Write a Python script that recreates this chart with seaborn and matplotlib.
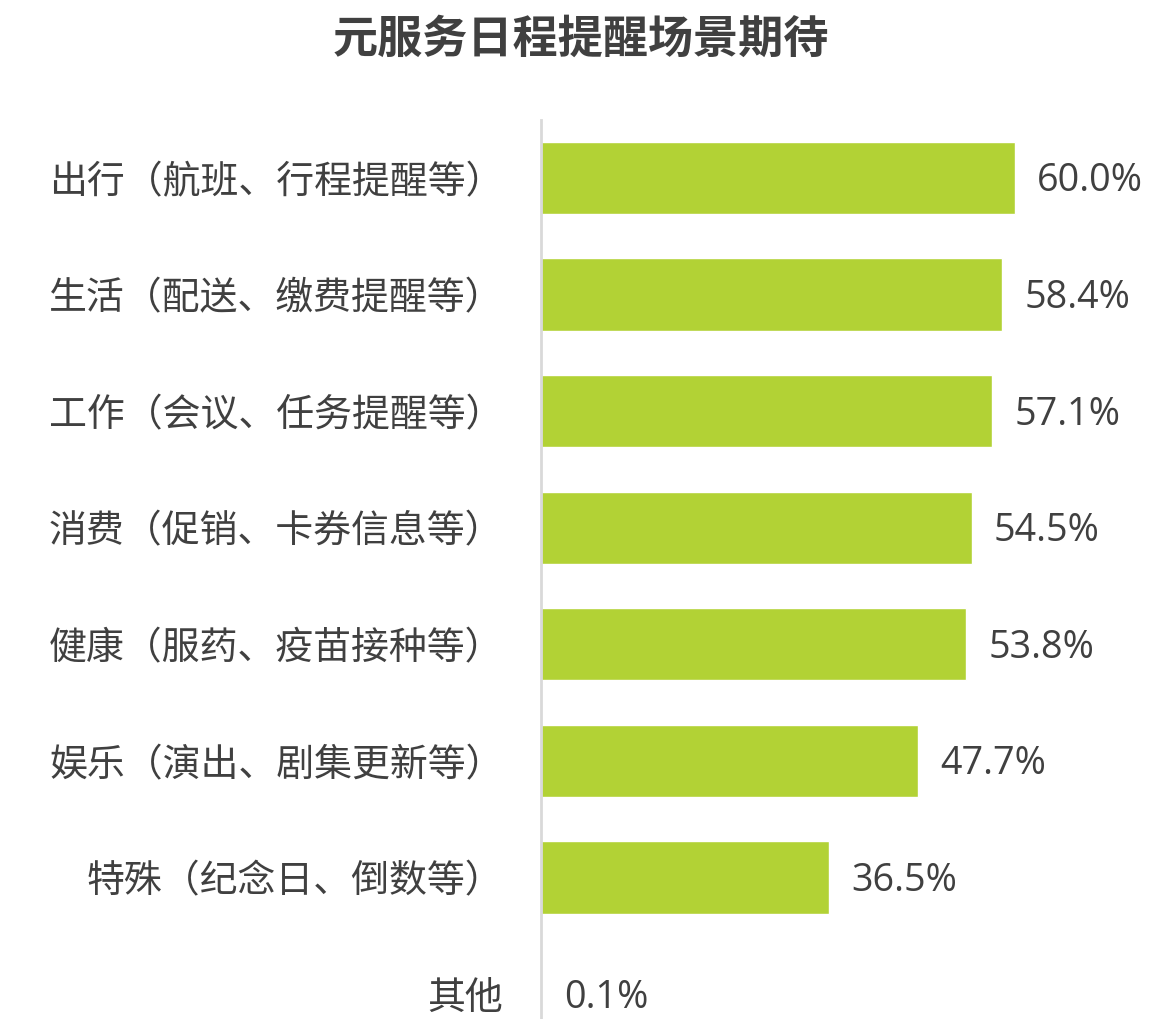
import matplotlib
matplotlib.use("Agg")
import matplotlib.pyplot as plt
import seaborn as sns
import pandas as pd

categories = ["出行（航班、行程提醒等）", "生活（配送、缴费提醒等）", "工作（会议、任务提醒等）",
              "消费（促销、卡券信息等）", "健康（服药、疫苗接种等）", "娱乐（演出、剧集更新等）",
              "特殊（纪念日、倒数等）", "其他"]
values = [60.0, 58.4, 57.1, 54.5, 53.8, 47.7, 36.5, 0.1]
title = "元服务日程提醒场景期待"

sns.set_theme(style="white")
plt.rcParams['font.family'] = ['Noto Sans CJK SC', 'DejaVu Sans']

df = pd.DataFrame({"cat": categories, "val": values})

fig = plt.figure(figsize=(11.52, 10.19), dpi=100)
ax = fig.add_axes([541/1152, 0, 1 - 541/1152, 1 - 120/1019])
sns.barplot(data=df, x="val", y="cat", color="#B2D235", saturation=1, width=0.62, ax=ax, orient="h")

ax.set_xlim(0, (1152 - 541) / 7.9)
ax.set_ylim(7.214, -0.4976)
ax.set_xlabel("")
ax.set_ylabel("")
ax.set_xticks([])
for s in ["top", "right", "bottom"]:
    ax.spines[s].set_visible(False)
ax.spines["left"].set_color("#D9D9D9")
ax.spines["left"].set_linewidth(2)
ax.tick_params(axis="y", length=0, pad=27, labelsize=27.3, labelcolor="#404040")

for i, v in enumerate(values):
    ax.annotate(f"{v:.1f}%", (v, i), xytext=(16, -2.5), textcoords="offset points",
                va="center", ha="left", fontsize=27.2, color="#404040",
                family=['Open Sans', 'DejaVu Sans'])

fig.text(581/1152, 1 - 40/1019, title, ha="center", va="center", fontsize=32.5,
         fontweight="bold", color="#404040")

fig.savefig("out.png", dpi=100)
